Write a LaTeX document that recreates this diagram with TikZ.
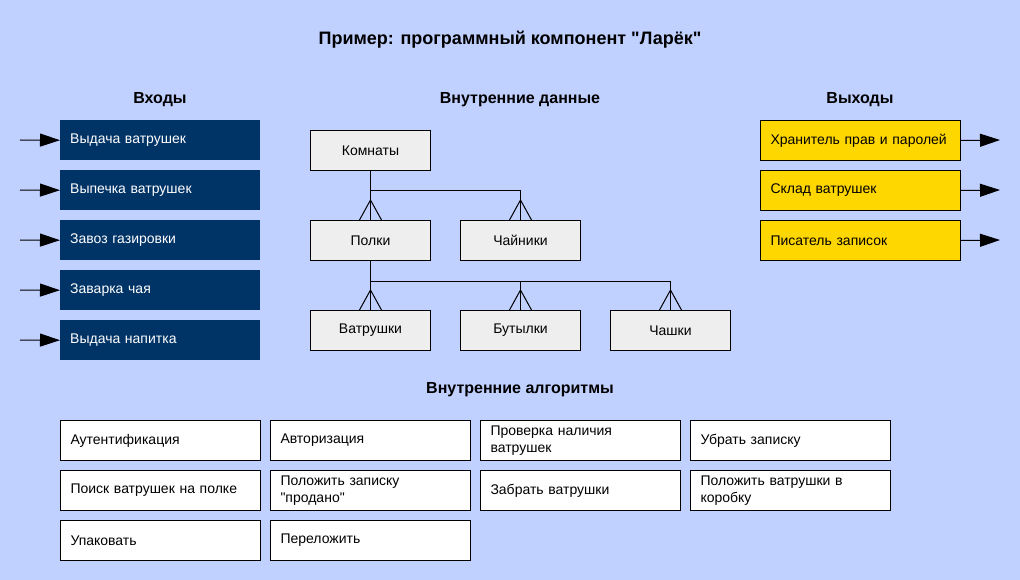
\documentclass[tikz,border=0pt]{standalone}
\usepackage{fontspec}
\setmainfont{Liberation Sans}[Ligatures=TeXOff]
\usetikzlibrary{arrows.meta,calc}
\definecolor{bgc}{HTML}{C0D0FF}
\definecolor{navy}{HTML}{003366}
\definecolor{gold}{HTML}{FFD700}
\definecolor{lgray}{HTML}{EEEEEE}
\newcommand\crowfoot[1]{\draw[conn] ($(#1.north)+(-11,0)$) -- ($(#1.north)+(0,-20)$) -- ($(#1.north)+(11,0)$);}
\begin{document}
\begin{tikzpicture}[x=1pt,y=-1pt,
  every node/.style={font=\fontsize{14}{17}\selectfont},
  title/.style={font=\bfseries\fontsize{18}{21}\selectfont},
  head/.style={font=\bfseries\fontsize{16}{19}\selectfont},
  wbox/.style={anchor=north west,minimum width=200pt,minimum height=40pt,text width=180pt,inner xsep=10pt,inner ysep=0pt,align=left},
  inbox/.style={wbox,fill=navy,text=white},
  outbox/.style={wbox,fill=gold,draw=black,line width=1pt},
  algbox/.style={wbox,fill=white,draw=black,line width=1pt},
  databox/.style={anchor=north west,minimum width=120pt,minimum height=40pt,inner sep=0pt,fill=lgray,draw=black,line width=1pt},
  conn/.style={line width=1pt,black},
  arr/.style={line width=1pt,black,-{Triangle[length=20pt,width=13pt]}}
]
\useasboundingbox (0,0) rectangle (1020,580);
\fill[bgc] (0,0) rectangle (1020,580);

\node[title] (t) at (510,40) {Пример: программный компонент "Ларёк"};
\node[head] (hin) at (160,100) {Входы};
\node[head] (hdata) at (520,100) {Внутренние данные};
\node[head] (hout) at (860,100) {Выходы};
\node[head] (halg) at (520,390) {Внутренние алгоритмы};

% inputs
\node[inbox] (i1) at (60,120) {Выдача ватрушек};
\node[inbox] (i2) at (60,170) {Выпечка ватрушек};
\node[inbox] (i3) at (60,220) {Завоз газировки};
\node[inbox] (i4) at (60,270) {Заварка чая};
\node[inbox] (i5) at (60,320) {Выдача напитка};
\foreach \k/\yy in {1/140,2/190,3/240,4/290,5/340}{
  \coordinate (a\k) at (20,\yy);
  \draw[arr] (a\k) -- (i\k.west);
}

% outputs
\node[outbox] (o1) at (760,120) {Хранитель прав и паролей};
\node[outbox] (o2) at (760,170) {Склад ватрушек};
\node[outbox] (o3) at (760,220) {Писатель записок};
\foreach \k/\yy in {1/140,2/190,3/240}{
  \coordinate (b\k) at (1000,\yy);
  \draw[arr] (o\k.east) -- (b\k);
}

% data
\node[databox] (komn) at (310,130) {Комнаты};
\node[databox] (polki) at (310,220) {Полки};
\node[databox] (chai) at (460,220) {Чайники};
\node[databox] (vatr) at (310,310) {Ватрушки};
\node[databox] (but) at (460,310) {Бутылки};
\node[databox] (chash) at (610,310) {Чашки};

\draw[conn] (komn.south) -- (polki.north);
\draw[conn] ($(komn.south)+(0,20)$) -| (chai.north);
\draw[conn] (polki.south) -- (vatr.north);
\draw[conn] ($(polki.south)+(0,20)$) -| (but.north);
\draw[conn] ($(polki.south)+(0,20)$) -| (chash.north);
\crowfoot{polki}
\crowfoot{chai}
\crowfoot{vatr}
\crowfoot{but}
\crowfoot{chash}

% algorithms
\node[algbox] (g1) at (60,420) {Аутентификация};
\node[algbox] (g2) at (270,420) {Авторизация};
\node[algbox] (g3) at (480,420) {Проверка наличия\\ватрушек};
\node[algbox] (g4) at (690,420) {Убрать записку};
\node[algbox] (g5) at (60,470) {Поиск ватрушек на полке};
\node[algbox] (g6) at (270,470) {Положить записку\\"продано"};
\node[algbox] (g7) at (480,470) {Забрать ватрушки};
\node[algbox] (g8) at (690,470) {Положить ватрушки в\\коробку};
\node[algbox] (g9) at (60,520) {Упаковать};
\node[algbox] (g10) at (270,520) {Переложить};
\end{tikzpicture}
\end{document}
